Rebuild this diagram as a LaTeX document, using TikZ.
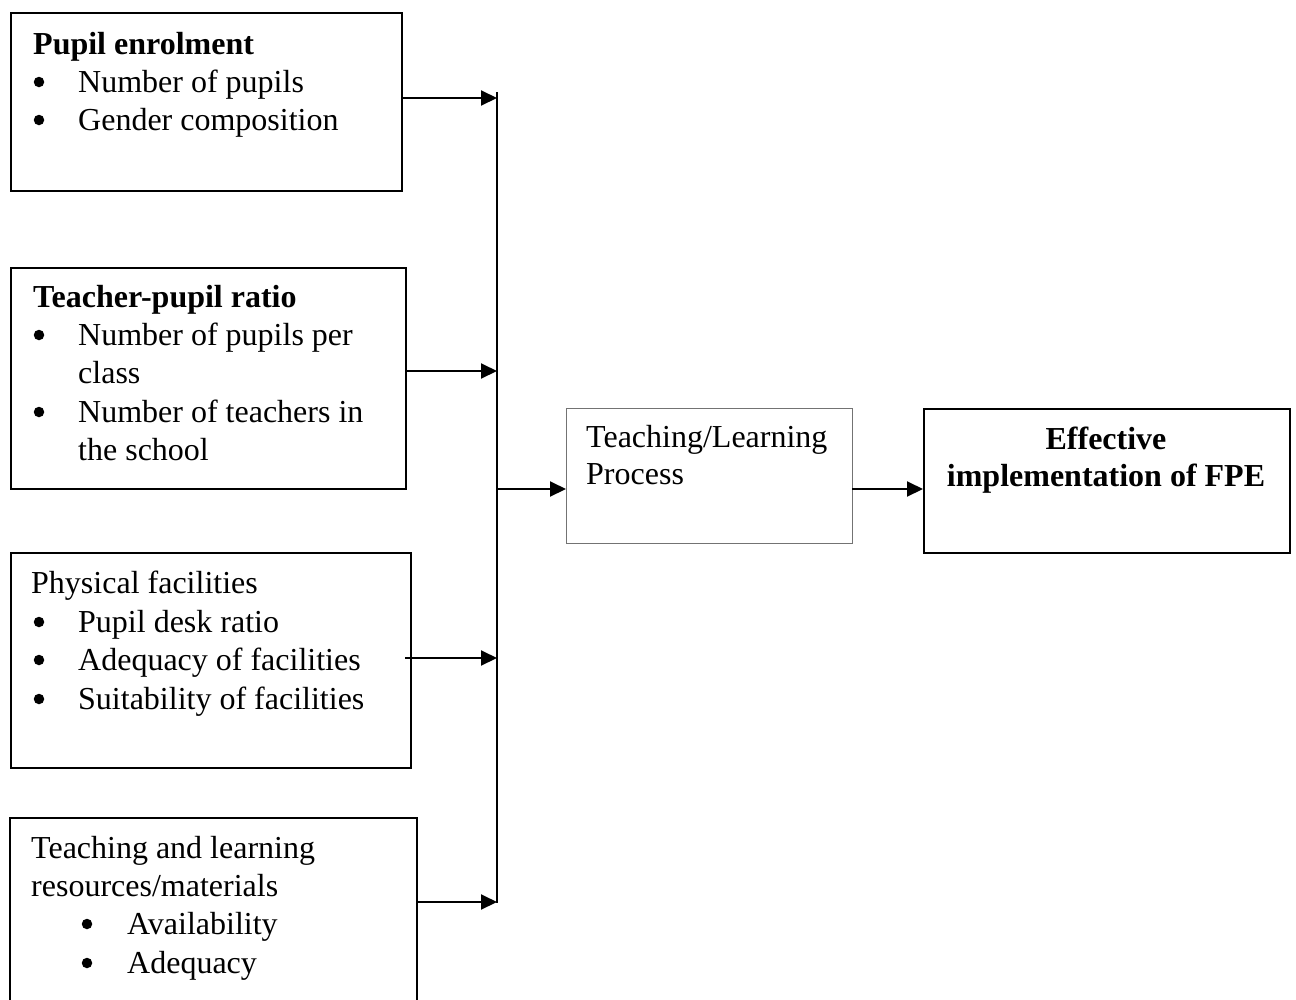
\documentclass[tikz,border=0pt]{standalone}
\usepackage{fontspec}
\setmainfont{Liberation Serif}
\usetikzlibrary{arrows.meta}
\tikzset{
  box/.style={draw=black, line width=2pt, inner sep=0pt, anchor=north west},
  thinbox/.style={draw=black!55, line width=1.3pt, inner sep=0pt, anchor=north west},
  txt/.style={inner sep=0pt, anchor=base west, font=\fontsize{32}{38.5}\selectfont},
  ctxt/.style={inner sep=0pt, anchor=base, font=\fontsize{32}{38.5}\selectfont\bfseries},
  bul/.style={circle, fill=black, draw=none, inner sep=0pt, minimum size=10.5pt},
  conn/.style={line width=2pt},
  arr/.style={line width=2pt, -{Triangle[length=16pt,width=15pt]}}
}
% #1 name, #2 bullet centre x, #3 text x, #4 baseline y, #5 text
\newcommand\bitem[5]{%
  \node[bul] (#1b) at (#2,#4-10) {};
  \node[txt] (#1) at (#3,#4) {#5};
}
\begin{document}
\begin{tikzpicture}[x=1pt,y=-1pt]
\useasboundingbox (0,0) rectangle (1296,999);
\fill[white] (0,0) rectangle (1296,999);

% Box 1
\node[box, minimum width=391pt, minimum height=178pt] (B1) at (10,12) {};
\node[txt] (b1t) at (33,54) {\textbf{Pupil enrolment}};
\bitem{b1a}{39}{78}{92}{Number of pupils}
\bitem{b1c}{39}{78}{130}{Gender composition}

% Box 2
\node[box, minimum width=395pt, minimum height=221pt] (B2) at (10,267) {};
\node[txt] (b2t) at (33,307) {\textbf{Teacher-pupil ratio}};
\bitem{b2a}{39}{78}{345}{Number of pupils per}
\node[txt] (b2a2) at (78,383) {class};
\bitem{b2c}{39}{78}{422}{Number of teachers in}
\node[txt] (b2c2) at (78,460) {the school};

% Box 3
\node[box, minimum width=400pt, minimum height=215pt] (B3) at (10,552) {};
\node[txt] (b3t) at (31,593) {Physical facilities};
\bitem{b3a}{39}{78}{632}{Pupil desk ratio}
\bitem{b3c}{39}{78}{670}{Adequacy of facilities}
\bitem{b3d}{39}{78}{709}{Suitability of facilities}

% Box 4 (bottom edge runs off the page)
\node[inner sep=0pt, anchor=north west, minimum width=407pt, minimum height=200pt] (B4) at (10,818) {};
\draw[line width=2pt] (B4.south west) -- (B4.north west) -- (B4.north east) -- (B4.south east);
\node[txt] (b4t) at (31,858) {Teaching and learning};
\node[txt] (b4t2) at (31,896) {resources/materials};
\bitem{b4a}{87}{127}{934}{Availability}
\bitem{b4c}{87}{127}{973}{Adequacy}

% Middle box
\node[thinbox, minimum width=286pt, minimum height=135pt] (TL) at (566,408) {};
\node[txt] (tlt) at (586,447) {Teaching/Learning};
\node[txt] (tlp) at (586,484) {Process};

% Right box
\node[box, minimum width=366pt, minimum height=144pt] (FPE) at (923,408) {};
\node[ctxt] (fe) at (1106,449) {Effective};
\node[ctxt] (fi) at (1106,486) {implementation of FPE};

% Bus
\coordinate (bt) at (497,92);
\coordinate (bb) at (497,903);
\draw[conn] (bt) -- (bb);
\coordinate (j1) at (497,98);
\coordinate (j2) at (497,371);
\coordinate (j3) at (497,658);
\coordinate (j4) at (497,902);
\coordinate (j0) at (497,489);

\draw[arr] (j1 -| B1.east) -- (j1);
\draw[arr] (j2 -| B2.east) -- (j2);
\draw[arr] ([xshift=-7pt]j3 -| B3.east) -- (j3);
\draw[arr] (j4 -| B4.east) -- (j4);
\draw[arr] (j0) -- (j0 -| TL.west);
\coordinate (k0) at (852,489);
\draw[arr] (k0) -- (k0 -| FPE.west);
\end{tikzpicture}
\end{document}
